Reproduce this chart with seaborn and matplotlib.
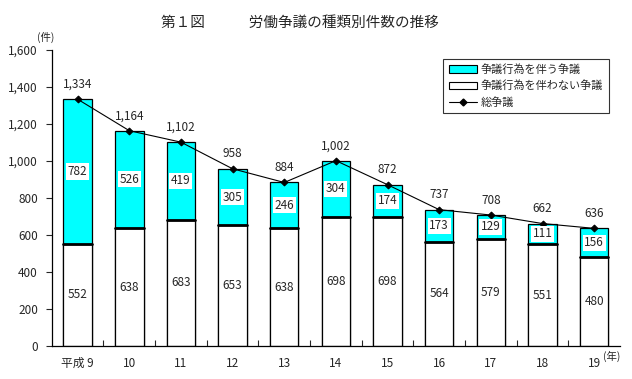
import numpy as np
import pandas as pd
import matplotlib
matplotlib.use("Agg")
import matplotlib.pyplot as plt
import seaborn as sns
from matplotlib.patches import Patch
from matplotlib.lines import Line2D

# data
years = ["平成 9", "10", "11", "12", "13", "14", "15", "16", "17", "18", "19"]
with_action = [782, 526, 419, 305, 246, 304, 174, 173, 129, 111, 156]
without_action = [552, 638, 683, 653, 638, 698, 698, 564, 579, 551, 480]
total = [1334, 1164, 1102, 958, 884, 1002, 872, 737, 708, 662, 636]

sns.set_style("white")
plt.rcParams['font.family'] = ['Noto Sans CJK JP', 'DejaVu Sans']

df = pd.DataFrame({"year": years, "with": with_action,
                   "without": without_action, "total": total})

fig = plt.figure(figsize=(6.32, 3.79), dpi=100)
ax = fig.add_axes([0.082, 0.087, 0.899, 0.781])

# stacked bars: total in cyan, then the lower part in white on top
sns.barplot(data=df, x="year", y="total", color="#00FFFF", edgecolor="black",
            linewidth=0.9, width=0.55, saturation=1, ax=ax)
sns.barplot(data=df, x="year", y="without", color="white", edgecolor="black",
            linewidth=0.9, width=0.55, saturation=1, ax=ax)
# thicker border between the two parts
for i, v in enumerate(without_action):
    ax.plot([i - 0.275, i + 0.275], [v, v], color="black", lw=2, zorder=3)

# total line
sns.lineplot(x=np.arange(len(years)), y=total, color="black", lw=0.8,
             marker="D", markersize=3.5, markeredgecolor="black", ax=ax, zorder=4)

for i in range(len(years)):
    ax.text(i, total[i] + 45, f"{total[i]:,}", ha="center", va="bottom", fontsize=8.5)
    ax.text(i, without_action[i] + with_action[i] / 2, str(with_action[i]),
            ha="center", va="center", fontsize=8.5,
            bbox=dict(facecolor="white", edgecolor="none", pad=1.2), zorder=5)
    ax.text(i, without_action[i] / 2, str(without_action[i]),
            ha="center", va="center", fontsize=8.5, zorder=5)

ax.set_ylim(0, 1600)
ax.set_xlim(-0.5, len(years) - 0.5)
ax.set_yticks(range(0, 1601, 200))
ax.set_yticklabels([f"{v:,}" for v in range(0, 1601, 200)], fontsize=8.5)
ax.set_xticks(range(len(years)))
ax.set_xticklabels(years, fontsize=8.5)
ax.set_xlabel("")
ax.set_ylabel("")
ax.tick_params(axis="y", direction="out", length=4, width=0.8, pad=6, left=True)
ax.tick_params(axis="x", length=0, pad=8)
# minor ticks at category boundaries, pointing up
ax.set_xticks(np.arange(0.5, len(years) - 0.5, 1), minor=True)
ax.tick_params(axis="x", which="minor", direction="in", length=4, width=0.8, bottom=True)

for s in ["top", "right"]:
    ax.spines[s].set_visible(False)
for s in ["left", "bottom"]:
    ax.spines[s].set_color("black")
    ax.spines[s].set_linewidth(0.9)

handles = [Patch(facecolor="#00FFFF", edgecolor="black", linewidth=0.8),
           Patch(facecolor="white", edgecolor="black", linewidth=0.8),
           Line2D([], [], color="black", lw=0.8, marker="D", markersize=3.5)]
labels = ["争議行為を伴う争議", "争議行為を伴わない争議", "総争議"]
leg = ax.legend(handles, labels, loc="upper right", bbox_to_anchor=(0.99, 0.99),
                fontsize=8, frameon=True, fancybox=False, edgecolor="black",
                handlelength=2.6, handleheight=0.6, borderpad=0.5, labelspacing=0.5,
                handletextpad=0.3)
leg.get_frame().set_linewidth(0.8)

fig.text(0.475, 0.94, "第１図　　　労働争議の種類別件数の推移", ha="center",
         va="center", fontsize=10.5)
fig.text(0.072, 0.9, "(件)", ha="center", va="center", fontsize=7.5)
fig.text(0.968, 0.06, "(年)", ha="center", va="center", fontsize=7.5)

fig.savefig("out.png", dpi=100)
